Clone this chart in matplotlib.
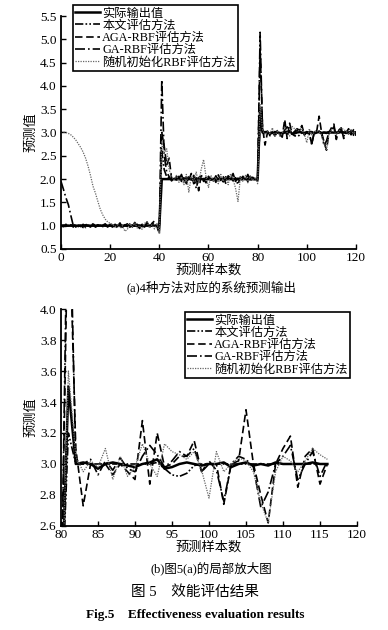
import numpy as np
import matplotlib
matplotlib.use("Agg")
import matplotlib.pyplot as plt

plt.rcParams['font.family'] = ['Liberation Serif', 'Noto Sans CJK SC']
plt.rcParams['axes.unicode_minus'] = False

# muestras 0..120
muestras = np.arange(121)

real = [
    1.00, 1.00, 1.00, 1.00, 1.00, 1.00, 1.00, 1.00, 1.00, 1.00,
    1.00, 1.00, 1.00, 1.00, 1.00, 1.00, 1.00, 1.00, 1.00, 1.00,
    1.00, 1.00, 1.00, 1.00, 1.00, 1.00, 1.00, 1.00, 1.00, 1.00,
    1.00, 1.00, 1.00, 1.00, 1.00, 1.00, 1.00, 1.00, 1.00, 1.00, 1.00,
    2.00, 2.00, 2.00, 2.00, 2.00, 2.00, 2.00, 2.00, 2.00, 2.00,
    2.00, 2.00, 2.00, 2.00, 2.00, 2.00, 2.00, 2.00, 2.00, 2.00,
    2.00, 2.00, 2.00, 2.00, 2.00, 2.00, 2.00, 2.00, 2.00, 2.00,
    2.00, 2.00, 2.00, 2.00, 2.00, 2.00, 2.00, 2.00, 2.00, 2.00,
    3.50, 3.00, 3.01, 3.00, 2.97, 3.00, 3.01, 3.00, 2.99, 2.98,
    3.00, 3.01, 3.03, 2.97, 2.98, 3.00, 3.01, 3.00, 2.99, 3.00,
    3.00, 3.01, 2.98, 3.00, 3.01, 2.99, 3.00, 2.99, 3.01, 3.00,
    3.00, 3.00, 3.00, 3.01, 3.00, 3.00, 3.00, 3.00, 3.00, 3.00]

propuesto = [
    1.00, 1.01, 0.99, 1.00, 1.02, 0.98, 1.00, 1.01, 0.99, 1.00,
    1.02, 0.99, 1.00, 1.01, 0.98, 1.00, 1.01, 0.99, 1.00, 1.02,
    0.99, 1.00, 0.98, 1.01, 1.00, 0.99, 1.02, 1.00, 0.98, 1.01,
    1.00, 0.99, 1.01, 1.00, 0.98, 1.02, 1.00, 0.99, 1.01, 1.00, 0.95,
    2.60, 2.20, 2.05, 2.02, 1.99, 2.01, 1.98, 2.02, 2.00, 1.99,
    2.01, 2.00, 1.98, 2.02, 1.99, 2.00, 2.01, 1.99, 2.02, 2.00,
    1.98, 2.01, 2.00, 1.99, 2.02, 2.00, 1.98, 2.01, 2.00, 1.99,
    2.02, 2.00, 1.99, 2.01, 2.00, 1.98, 2.01, 2.00, 1.99, 2.00,
    3.20, 3.00, 3.00, 3.00, 3.00, 3.00, 3.00, 3.00, 3.00, 3.00,
    3.00, 3.00, 3.01, 2.97, 2.93, 2.92, 2.94, 2.99, 3.00, 3.00,
    3.00, 3.00, 3.00, 3.00, 3.00, 3.00, 3.00, 3.00, 3.00, 3.00,
    3.00, 3.00, 3.00, 3.00, 3.00, 3.00, 3.00, 3.00, 3.00, 3.00]

aga = [
    1.00, 0.98, 1.03, 0.99, 1.02, 0.97, 1.04, 0.98, 1.01, 0.96,
    1.03, 1.00, 0.97, 1.05, 0.99, 1.02, 0.96, 1.01, 1.04, 0.98,
    1.00, 0.97, 1.03, 0.99, 1.06, 0.95, 1.02, 0.98, 1.04, 0.97,
    1.07, 1.00, 0.94, 1.03, 0.98, 1.08, 0.96, 1.05, 1.10, 0.99, 0.82,
    3.00, 2.70, 2.30, 2.45, 2.00, 1.95, 2.06, 1.98, 2.10, 1.94,
    2.05, 1.97, 2.12, 1.90, 2.03, 1.75, 2.08, 2.00, 1.92, 2.06,
    1.98, 2.04, 1.93, 2.09, 1.97, 2.05, 1.91, 2.07, 1.99, 2.12,
    1.95, 2.02, 1.94, 2.06, 1.98, 2.10, 1.96, 2.04, 1.97, 2.00,
    4.80, 3.10, 2.73, 3.00, 2.97, 3.00, 2.93, 3.00, 2.95, 2.90,
    3.28, 2.87, 3.20, 2.98, 3.00, 3.05, 3.05, 3.15, 2.95, 3.00,
    3.00, 2.74, 3.00, 3.02, 3.35, 3.00, 2.80, 2.62, 3.00, 3.10,
    3.18, 2.85, 3.05, 3.10, 2.87, 3.00, 3.08, 2.95, 3.06, 2.93]

ga = [
    1.95, 1.78, 1.60, 1.45, 1.22, 1.00, 0.97, 1.02, 0.98, 1.03,
    0.96, 1.01, 0.99, 1.04, 0.97, 1.00, 1.02, 0.98, 1.01, 0.97,
    1.03, 0.99, 1.00, 0.96, 1.02, 0.98, 1.01, 1.04, 0.97, 1.00,
    0.99, 1.03, 0.98, 1.01, 0.97, 1.05, 0.98, 1.02, 1.06, 0.97, 0.90,
    4.13, 2.50, 2.15, 2.05, 1.96, 2.04, 1.97, 2.06, 1.95, 2.03,
    1.90, 2.05, 1.98, 2.08, 1.80, 2.02, 2.10, 1.95, 2.04, 1.97,
    2.03, 1.96, 2.07, 1.98, 2.02, 1.94, 2.05, 1.99, 2.08, 1.96,
    2.03, 1.88, 2.05, 1.97, 2.04, 1.95, 2.06, 1.98, 2.03, 1.96,
    5.15, 3.00, 3.00, 3.03, 2.93, 3.02, 2.96, 3.04, 2.97, 2.95,
    3.05, 3.12, 3.06, 2.98, 3.02, 3.08, 3.05, 3.10, 2.95, 3.02,
    2.96, 2.76, 3.00, 3.05, 3.03, 2.98, 2.72, 2.82, 3.00, 3.05,
    3.12, 2.90, 3.00, 3.08, 2.92, 3.02, 2.97, 3.05, 2.94, 3.02]

aleatorio = [
    3.02, 3.01, 3.00, 2.98, 2.95, 2.90, 2.84, 2.76, 2.68, 2.58,
    2.45, 2.28, 2.08, 1.85, 1.70, 1.52, 1.35, 1.23, 1.14, 1.08,
    1.05, 1.03, 0.98, 1.02, 0.95, 1.00, 0.88, 0.92, 1.04, 0.97,
    1.06, 0.95, 1.00, 0.92, 1.05, 1.08, 0.95, 1.02, 0.93, 1.06, 0.85,
    2.80, 2.55, 2.65, 2.20, 2.05, 1.98, 2.08, 1.93, 2.05, 1.88,
    2.10, 1.72, 2.06, 1.95, 2.15, 1.90, 2.20, 2.42, 2.05, 1.82,
    2.08, 1.95, 2.04, 1.90, 2.10, 1.96, 2.05, 1.88, 2.12, 2.00,
    1.80, 1.52, 2.05, 1.95, 2.08, 1.92, 2.06, 1.97, 2.04, 1.90,
    3.60, 3.05, 2.95, 3.02, 2.98, 3.10, 2.90, 3.05, 2.92, 2.98,
    3.13, 3.00, 2.92, 3.13, 3.08, 3.06, 3.03, 3.08, 2.96, 2.78,
    3.08, 2.95, 3.00, 3.04, 3.02, 2.95, 2.75, 2.62, 2.95, 3.05,
    3.02, 2.95, 3.02, 3.10, 3.06, 3.03, 2.96, 3.04, 2.98, 3.02]

etiquetas = ['实际输出值', '本文评估方法', 'AGA-RBF评估方法', 'GA-RBF评估方法', '随机初始化RBF评估方法']
series = [real, propuesto, aga, ga, aleatorio]
estilos = [('-', 1.8, 'k'),
           ((0, (5, 1.3, 1, 1.3, 1, 1.3)), 1.2, 'k'),
           ((0, (4.5, 2.2)), 1.2, 'k'),
           ((0, (6, 1.8, 1, 1.8)), 1.2, 'k'),
           ((0, (1, 1)), 0.9, '0.4')]

fig = plt.figure(figsize=(3.88, 6.30), dpi=100)
ax1 = fig.add_axes([0.1572, 0.6048, 0.7603, 0.3698])
ax2 = fig.add_axes([0.1572, 0.1651, 0.7629, 0.3444])

def dibujar(ax, x, ys):
    for y, lab, (ls, lw, c) in zip(ys, etiquetas, estilos):
        ax.plot(x, y, linestyle=ls, linewidth=lw, color=c, label=lab)
    for s in ['top', 'right']:
        ax.spines[s].set_visible(False)
    ax.spines['left'].set_linewidth(1.3)
    ax.spines['bottom'].set_linewidth(1.3)
    ax.tick_params(direction='in', length=3.5, labelsize=9.5, width=1.0)
    ax.tick_params(axis='x', pad=2.5)
    ax.tick_params(axis='y', pad=3.2)
    ax.set_xlabel('预测样本数', fontsize=9.5, labelpad=0)
    ax.set_ylabel('预测值', fontsize=9.5, labelpad=2)

dibujar(ax1, muestras, series)
ax1.set_xlim(0, 120)
ax1.set_ylim(0.5, 5.5)
ax1.set_xticks(np.arange(0, 121, 20))
ax1.set_yticks(np.arange(0.5, 5.51, 0.5))
ax1.set_yticklabels(['%.1f' % v for v in np.arange(0.5, 5.51, 0.5)])
leg1 = ax1.legend(loc='upper left', bbox_to_anchor=(0.04, 1.047), fontsize=8.8,
                  frameon=True, fancybox=False, edgecolor='k', framealpha=1,
                  handlelength=2.0, handletextpad=0.2, labelspacing=0.02,
                  borderpad=0.2, borderaxespad=0)
leg1.get_frame().set_linewidth(1.2)

# zoom 80..116
i0, i1 = 80, 117
dibujar(ax2, muestras[i0:i1], [s[i0:i1] for s in series])
ax2.set_xlim(80, 120)
ax2.set_ylim(2.6, 4.0)
ax2.set_xticks(np.arange(80, 121, 5))
ax2.set_yticks(np.arange(2.6, 4.01, 0.2))
ax2.set_yticklabels(['%.1f' % v for v in np.arange(2.6, 4.01, 0.2)])
leg2 = ax2.legend(loc='upper left', bbox_to_anchor=(0.419, 0.986), fontsize=8.8,
                  frameon=True, fancybox=False, edgecolor='k', framealpha=1,
                  handlelength=2.0, handletextpad=0.2, labelspacing=0.02,
                  borderpad=0.2, borderaxespad=0)
leg2.get_frame().set_linewidth(1.2)

fig.text(0.546, 0.543, '(a)4种方法对应的系统预测输出', ha='center', va='center', fontsize=9)
fig.text(0.544, 0.0984, '(b)图5(a)的局部放大图', ha='center', va='center', fontsize=9)
fig.text(0.503, 0.0603, '图 5\u3000效能评估结果', ha='center', va='center', fontsize=10.5)
fig.text(0.503, 0.024, 'Fig.5    Effectiveness evaluation results', ha='center', va='center',
         fontsize=9.5, fontweight='bold')

fig.savefig('out.png', dpi=100)
